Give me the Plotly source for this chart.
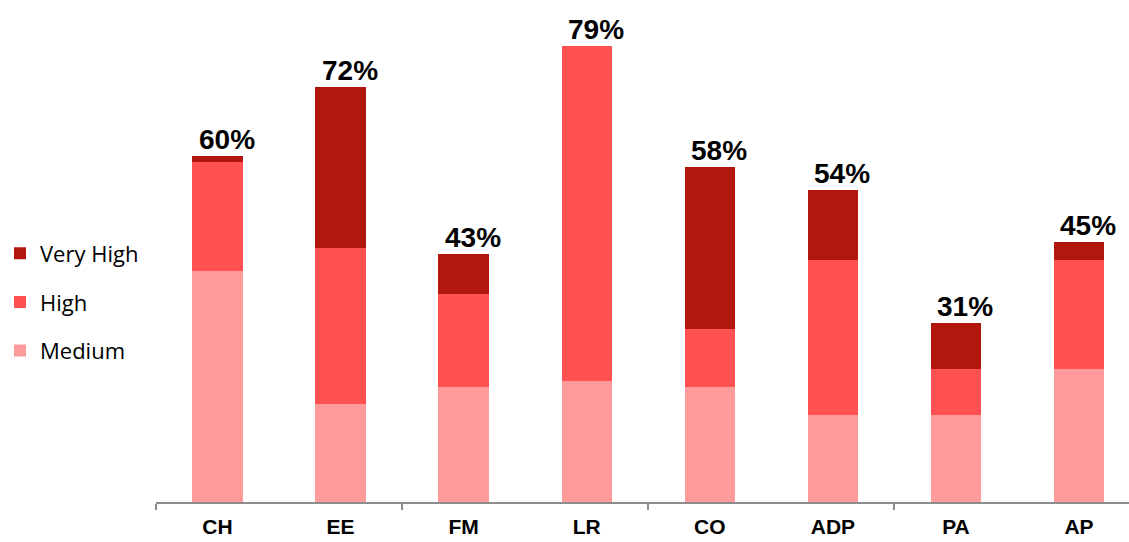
import plotly.graph_objects as go

categories = ["CH", "EE", "FM", "LR", "CO", "ADP", "PA", "AP"]
medium = [40, 17, 20, 21, 20, 15, 15, 23]
high = [19, 27, 16, 58, 10, 27, 8, 19]
very_high = [1, 28, 7, 0, 28, 12, 8, 3]
totals = [m + h + v for m, h, v in zip(medium, high, very_high)]
total_labels = [f"{t}%" for t in totals]

fig = go.Figure()
for rank, name, vals, color in [(3, "Medium", medium, "#FF9B9B"),
                                (2, "High", high, "#FF5151"),
                                (1, "Very High", very_high, "#B2170F")]:
    fig.add_trace(go.Bar(
        name=name, x=categories, y=vals,
        marker=dict(color=color, line=dict(width=0)),
        width=0.41, legendgroup=name, legendrank=rank,
    ))

# total labels above the stacks
for cat, tot, lab in zip(categories, totals, total_labels):
    fig.add_annotation(
        x=cat, y=tot, text=lab, showarrow=False,
        yanchor="bottom", xshift=9, yshift=-1,
        font=dict(family="Liberation Sans, Arial", size=28, color="black", weight="bold"),
    )

# overlay axis only for the tick marks every two categories
fig.add_trace(go.Scatter(x=[], y=[], xaxis="x2", showlegend=False))

fig.update_layout(
    barmode="stack",
    width=1129, height=542,
    margin=dict(l=156, r=0, t=0, b=40, autoexpand=False),
    plot_bgcolor="white", paper_bgcolor="white",
    legend=dict(
        xref="container", yref="container",
        x=0.0, y=0.571, xanchor="left", yanchor="top",
        traceorder="grouped", tracegroupgap=17,
        font=dict(family="Open Sans, Noto Sans", size=22, color="black"),
        itemwidth=30,
    ),
    xaxis=dict(
        range=[-0.5, 7.406], showline=False, ticks="",
        tickfont=dict(family="Liberation Sans, Arial", size=21, color="black", weight="bold"),
        ticklabelstandoff=10,
    ),
    xaxis2=dict(
        overlaying="x", anchor="y", range=[-0.5, 7.406],
        tickvals=[-0.5, 1.5, 3.5, 5.5, 7.5], ticktext=["", "", "", "", ""],
        ticks="outside", ticklen=6, tickwidth=2, tickcolor="#8C8C8C",
        showline=True, linecolor="#8C8C8C", linewidth=2,
        showgrid=False, zeroline=False, side="bottom",
    ),
    yaxis=dict(range=[0, 87], visible=False),
)

fig.write_html("out.html", config={"displayModeBar": False},
               post_script="document.body.style.margin='0';")
